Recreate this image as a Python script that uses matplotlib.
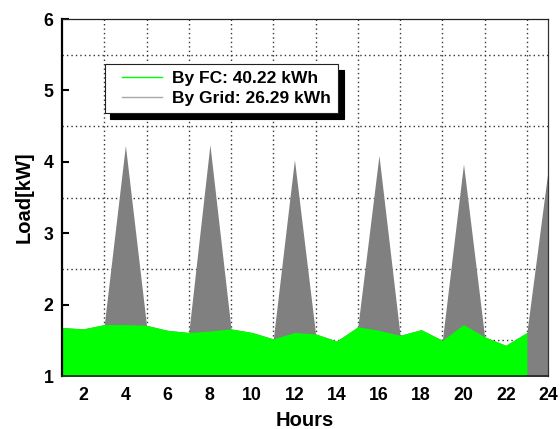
import numpy as np
import matplotlib
matplotlib.use("Agg")
import matplotlib.pyplot as plt
from matplotlib.lines import Line2D
from matplotlib.legend_handler import HandlerLine2D

plt.rcParams['font.family'] = ['Liberation Sans', 'DejaVu Sans']
plt.rcParams['font.weight'] = 'bold'

# Hourly load split between fuel cell and grid supply (kW)
hours = np.arange(1, 25)
fc_load = np.array([1.68, 1.66, 1.72, 1.72, 1.71, 1.64, 1.61, 1.63, 1.66, 1.61,
                    1.52, 1.61, 1.59, 1.49, 1.69, 1.64, 1.57, 1.65, 1.50, 1.72,
                    1.55, 1.43, 1.61, 0.00])
grid_load = np.array([0.00, 0.00, 0.00, 2.51, 0.00, 0.00, 0.00, 2.61, 0.00, 0.00,
                      0.00, 2.42, 0.00, 0.00, 0.00, 2.45, 0.00, 0.00, 0.00, 2.25,
                      0.00, 0.00, 0.00, 3.88])
legend_labels = ['By FC: 40.22 kWh', 'By Grid: 26.29 kWh']
x_ticks = [2, 4, 6, 8, 10, 12, 14, 16, 18, 20, 22, 24]
y_ticks = [1, 2, 3, 4, 5, 6]

green = '#00ff00'
grey = '#808080'

fig = plt.figure(figsize=(5.6, 4.29), dpi=100)
ax = fig.add_axes([0.1107, 0.1235, 0.8679, 0.8322])

total = fc_load + grid_load
ax.fill_between(hours, 0, total, color=grey, linewidth=0, zorder=1)
ax.fill_between(hours, 0, fc_load, where=fc_load > 0, color=green,
                linewidth=0, zorder=2)

ax.set_xlim(1, 24)
ax.set_ylim(1, 6)
ax.set_xticks(x_ticks)
ax.set_yticks(y_ticks)
ax.set_xticks(np.arange(3, 24, 2), minor=True)
ax.set_yticks(np.arange(1.5, 6, 1.0), minor=True)

ax.set_axisbelow(True)
ax.grid(which='minor', linestyle=(0, (1, 2.2)), color='#333333', linewidth=1.0)
ax.grid(which='major', visible=False)

ax.tick_params(axis='y', which='major', direction='in', length=5, width=1.5,
               labelsize=12.8, pad=6)
ax.tick_params(axis='x', which='major', length=0, labelsize=12.8, pad=8)
ax.tick_params(which='minor', length=0)

for side, lw, col in [('left', 1.6, 'black'), ('bottom', 1.2, '#222222'),
                      ('top', 0.9, '#222222'), ('right', 0.9, '#333333')]:
    ax.spines[side].set_linewidth(lw)
    ax.spines[side].set_color(col)

ax.set_xlabel('Hours', fontsize=14.5, fontweight='bold', labelpad=5)
ax.set_ylabel('Load[kW]', fontsize=14.5, fontweight='bold', labelpad=7)

handles = [Line2D([], [], color=green, linewidth=1.0),
           Line2D([], [], color='#a8a8a8', linewidth=1.0)]
inset = HandlerLine2D(numpoints=2, marker_pad=0.62)
leg = ax.legend(handles, legend_labels, loc='upper left',
                bbox_to_anchor=(0.088, 0.874), borderaxespad=0,
                fancybox=False, framealpha=1, edgecolor='#222222',
                prop={'size': 12.5, 'weight': 'bold'},
                handlelength=3.5, handletextpad=0.0, borderpad=0.4,
                labelspacing=0.3,
                handler_map={Line2D: inset},
                shadow={'ox': 4, 'oy': -4, 'facecolor': 'black',
                        'edgecolor': 'black', 'alpha': 1})
leg.get_frame().set_linewidth(0.8)

fig.savefig('out.png', dpi=100)
